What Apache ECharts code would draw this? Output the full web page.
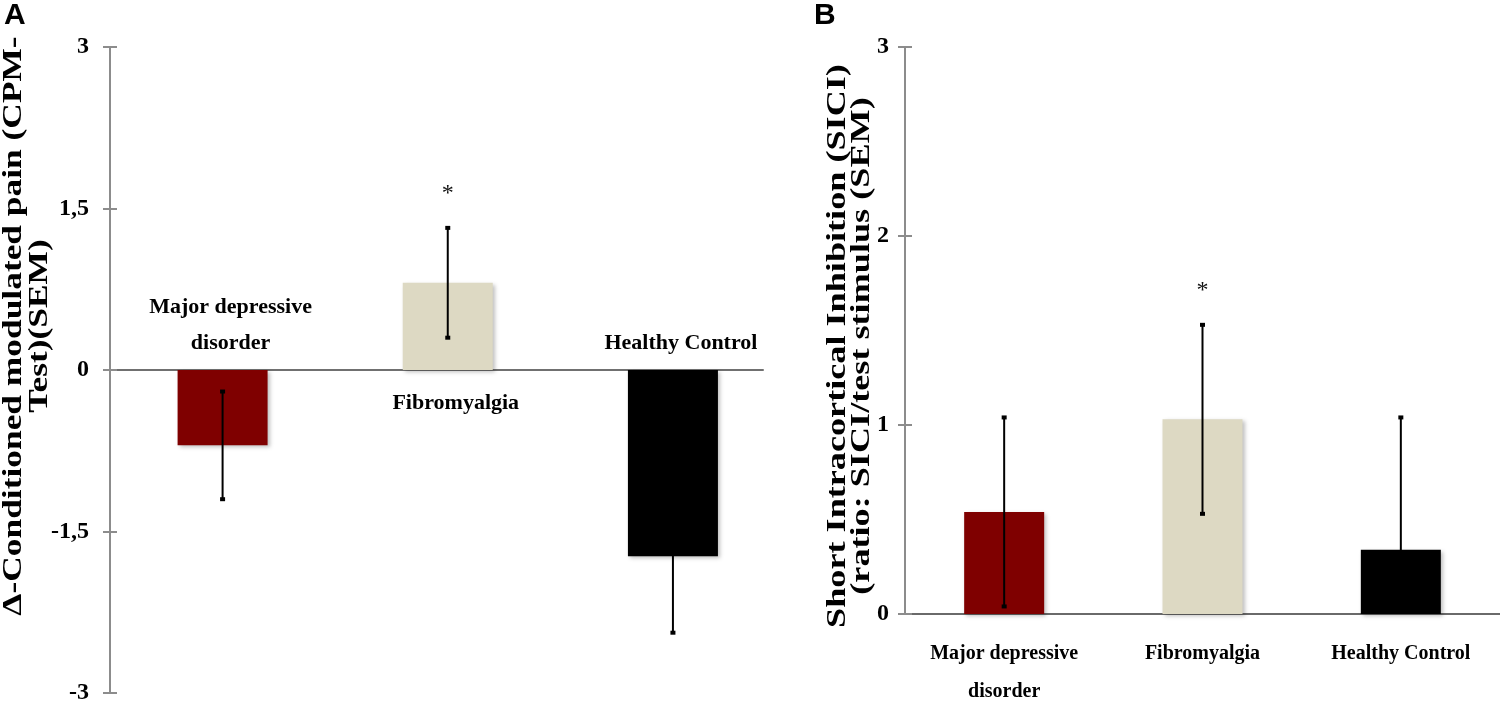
<!DOCTYPE html>
<html lang="en">
<head>
    <meta charset="UTF-8">
    <title>CPM and SICI by group</title>
    <script src="https://cdn.jsdelivr.net/npm/echarts@6/dist/echarts.min.js"></script>
    <style>
        html, body { margin: 0; padding: 0; background: #fff; }
        #main { width: 1500px; height: 711px; }
    </style>
</head>
<body>
<div id="main"></div>
<script type="text/javascript">
    var categories = ['Major depressive\ndisorder', 'Fibromyalgia', 'Healthy Control'];
    var barColors = ['#7f0000', '#ddd9c3', '#000000'];
    var stars = ['', '*', ''];

    // A: delta conditioned modulated pain (CPM - test), mean and SEM
    var cpmMean = [-0.70, 0.81, -1.73];
    var cpmSem = [0.50, 0.51, 0.71];
    var cpmTicks = [-3, -1.5, 0, 1.5, 3];

    // B: SICI ratio (SICI / test stimulus), mean and SEM
    var siciMean = [0.54, 1.03, 0.34];
    var siciSem = [0.50, 0.50, 0.70];
    var siciTicks = [0, 1, 2, 3];

    var serif = '"Liberation Serif", "Times New Roman", serif';
    var axisGrey = '#8c8c8c';

    function valueAxis(gridIndex, ticks, margin, inner) {
        // two axes per grid so the ticks cross the axis line
        return {
            type: 'value',
            gridIndex: gridIndex,
            position: 'left',
            min: ticks[0],
            max: ticks[ticks.length - 1],
            interval: ticks[1] - ticks[0],
            axisLine: { show: !inner, onZero: false, lineStyle: { color: axisGrey, width: 2 } },
            axisTick: { show: true, inside: inner, length: 7, lineStyle: { color: axisGrey, width: 2 } },
            axisLabel: {
                show: !inner,
                margin: margin,
                fontFamily: serif,
                fontWeight: 'bold',
                fontSize: 24,
                color: '#000',
                formatter: function (v) { return String(v).replace('.', ','); }
            },
            splitLine: { show: false }
        };
    }

    function bars(means, xi, yi, width, onValueAxis) {
        return {
            type: 'bar',
            xAxisIndex: xi,
            yAxisIndex: yi,
            barWidth: width,
            silent: true,
            data: means.map(function (m, i) {
                return {
                    value: onValueAxis ? [i, m] : m,
                    itemStyle: {
                        color: barColors[i],
                        shadowBlur: 4,
                        shadowColor: 'rgba(0,0,0,0.25)',
                        shadowOffsetX: 2,
                        shadowOffsetY: 2
                    }
                };
            }),
            z: 2
        };
    }

    function errorBars(means, sems, xi, yi) {
        return {
            type: 'custom',
            xAxisIndex: xi,
            yAxisIndex: yi,
            silent: true,
            clip: true,
            encode: { x: 0, y: [1, 2] },
            data: means.map(function (m, i) { return [i, m - sems[i], m + sems[i]]; }),
            renderItem: function (params, api) {
                var lo = api.coord([api.value(0), api.value(1)]);
                var hi = api.coord([api.value(0), api.value(2)]);
                var children = [
                    { type: 'line', shape: { x1: lo[0], y1: lo[1], x2: hi[0], y2: hi[1] },
                      style: { stroke: '#000', lineWidth: 2 } },
                    { type: 'rect', shape: { x: lo[0] - 2.5, y: lo[1] - 2, width: 5, height: 4 },
                      style: { fill: '#000' } },
                    { type: 'rect', shape: { x: hi[0] - 2.5, y: hi[1] - 2, width: 5, height: 4 },
                      style: { fill: '#000' } }
                ];
                var star = stars[params.dataIndex];
                if (star) {
                    children.push({
                        type: 'text',
                        x: hi[0],
                        y: hi[1] - 34,
                        style: {
                            text: star, align: 'center', verticalAlign: 'middle',
                            fontFamily: serif, fontSize: 24, fill: '#111'
                        }
                    });
                }
                return { type: 'group', children: children };
            },
            z: 5
        };
    }

    // rotated axis titles; stretched along the text like the condensed originals
    function axisTitle(text, x, y, lineHeight, stretch) {
        return {
            type: 'text', x: x, y: y, rotation: Math.PI / 2, scaleX: stretch,
            style: {
                text: text, align: 'center', verticalAlign: 'middle', lineHeight: lineHeight,
                fontFamily: serif, fontWeight: 'bold', fontSize: 27, fill: '#000'
            }
        };
    }

    var myChart = echarts.init(document.getElementById('main'));
    myChart.setOption({
        animation: false,
        backgroundColor: '#fff',
        grid: [
            { left: 110, top: 47, width: 653, height: 646 },
            { left: 905, top: 47, width: 595, height: 570 }
        ],
        xAxis: [
            {
                // panel A: bars sit on a value scale so the zero line ends where the original does
                type: 'value',
                gridIndex: 0,
                min: -0.5,
                max: 2.4,
                axisLine: { onZero: true, lineStyle: { color: '#707070', width: 2 } },
                axisTick: { show: false },
                axisLabel: { show: false },
                splitLine: { show: false }
            },
            {
                type: 'category',
                gridIndex: 1,
                data: categories,
                axisLine: { lineStyle: { color: '#6a6a6a', width: 2 } },
                axisTick: { show: false },
                axisLabel: {
                    interval: 0,
                    margin: 21,
                    fontFamily: serif,
                    fontWeight: 'bold',
                    fontSize: 20,
                    lineHeight: 38,
                    color: '#000'
                },
                splitLine: { show: false }
            }
        ],
        yAxis: [
            valueAxis(0, cpmTicks, 21, false),
            valueAxis(0, cpmTicks, 21, true),
            valueAxis(1, siciTicks, 16, false),
            valueAxis(1, siciTicks, 16, true)
        ],
        graphic: [
            { type: 'text', x: 4, y: 1,
              style: { text: 'A', fontFamily: '"Liberation Sans", Arial, sans-serif', fontWeight: 'bold',
                       fontSize: 30, fill: '#000' } },
            { type: 'text', x: 814, y: 1,
              style: { text: 'B', fontFamily: '"Liberation Sans", Arial, sans-serif', fontWeight: 'bold',
                       fontSize: 30, fill: '#000' } },
            axisTitle('Δ-Conditioned modulated pain (CPM-\nTest)(SEM)', 27, 326, 26, 1.31),
            axisTitle('Short Intracortical Inhibition (SICI)\n(ratio: SICI/test stimulus (SEM)', 850, 346, 24, 1.34)
        ],
        series: [
            bars(cpmMean, 0, 0, 90, true),
            errorBars(cpmMean, cpmSem, 0, 0),
            {
                // panel A group names sit beside the zero line, away from the bar
                type: 'scatter',
                xAxisIndex: 0,
                yAxisIndex: 0,
                symbolSize: 1,
                silent: true,
                itemStyle: { color: 'rgba(0,0,0,0)' },
                data: categories.map(function (c, i) {
                    var below = cpmMean[i] > 0;
                    return {
                        value: [i, 0],
                        name: c,
                        label: { position: below ? 'bottom' : 'top', distance: below ? 15 : 8 }
                    };
                }),
                label: {
                    show: true,
                    offset: [8, 0],
                    formatter: function (p) { return p.name; },
                    fontFamily: serif,
                    fontWeight: 'bold',
                    fontSize: 22,
                    lineHeight: 36,
                    color: '#000',
                    opacity: 1
                },
                z: 6
            },
            bars(siciMean, 1, 2, 80, false),
            errorBars(siciMean, siciSem, 1, 2)
        ]
    });
</script>
</body>
</html>
